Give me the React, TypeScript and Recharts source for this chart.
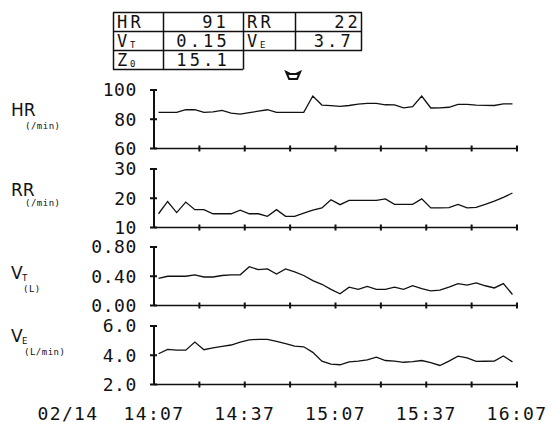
import React from "react";
import { LineChart, Line, XAxis, YAxis, ReferenceDot } from "recharts";

// sample times, minutes after 14:07
const minutes = [
  1.5, 4.5, 7.5, 10.5, 13.5, 16.5, 19.5, 22.5, 25.5, 28.5,
  31.5, 34.5, 37.5, 40.5, 43.5, 46.5, 49.5, 52.5, 55.5, 58.5,
  61.5, 64.5, 67.5, 70.5, 73.5, 76.5, 79.5, 82.5, 85.5, 88.5,
  91.5, 94.5, 97.5, 100.5, 103.5, 106.5, 109.5, 112.5, 115.5, 118.5,
];

const hrValues = [
  84.7, 84.7, 84.7, 86.5, 86.5, 84.7, 85, 86, 84.2, 83.5,
  84.5, 85.5, 86.5, 84.7, 84.7, 84.7, 84.7, 95.9, 89.7, 89.3,
  88.8, 89.4, 90.3, 90.9, 90.9, 89.9, 89.8, 87.8, 88.6, 95.9,
  87.7, 87.8, 88.2, 90.2, 90.2, 89.6, 89.5, 89.4, 90.5, 90.5,
];
const rrValues = [
  14.7, 18.9, 15.1, 18.7, 16.1, 16.1, 14.7, 14.7, 14.7, 15.9,
  14.7, 14.7, 13.8, 16.1, 13.8, 13.8, 14.9, 15.9, 16.7, 19.5,
  17.8, 19.3, 19.3, 19.3, 19.3, 19.8, 17.9, 17.9, 17.9, 19.8,
  16.7, 16.7, 16.8, 17.9, 16.7, 16.9, 17.9, 19.0, 20.3, 21.8,
];
const vtValues = [
  0.37, 0.4, 0.4, 0.4, 0.42, 0.39, 0.39, 0.41, 0.42, 0.42,
  0.53, 0.49, 0.5, 0.43, 0.5, 0.46, 0.41, 0.34, 0.29, 0.22,
  0.16, 0.25, 0.22, 0.26, 0.22, 0.22, 0.25, 0.22, 0.27, 0.23,
  0.2, 0.21, 0.25, 0.3, 0.28, 0.31, 0.27, 0.24, 0.3, 0.15,
];
const veValues = [
  4.1, 4.4, 4.35, 4.35, 4.9, 4.38, 4.5, 4.6, 4.7, 4.9,
  5.05, 5.09, 5.08, 4.95, 4.8, 4.62, 4.58, 4.2, 3.6, 3.4,
  3.35, 3.55, 3.6, 3.68, 3.87, 3.64, 3.6, 3.52, 3.56, 3.64,
  3.5, 3.3, 3.6, 3.94, 3.82, 3.58, 3.59, 3.6, 3.95, 3.55,
];

const timeTicks = [0, 15, 30, 45, 60, 75, 90, 105, 120];
const timeLabels = ["14:07", "14:37", "15:07", "15:37", "16:07"]; // one every 30 min
const dateLabel = "02/14";
const eventMinute = 46;

const hrTicks = [60, 80, 100];
const rrTicks = [10, 20, 30];
const vtTicks = [0, 0.4, 0.8];
const veTicks = [2, 4, 6];

const MONO = "'DejaVu Sans Mono', monospace";
const SANS = "'DejaVu Sans', sans-serif";
const INK = "#111";

const W = 553;
const AXIS_X = 154;
const RIGHT = 36;
const PLOT_H = 58.5;

function YTick(props: any) {
  const { x, y, payload, fmt } = props;
  return (
    <g>
      <path d={`M${x - 4},${y}H${x + 3}`} stroke={INK} strokeWidth={2} fill="none" />
      <text
        x={x - 17}
        y={y}
        dy="0.36em"
        textAnchor="end"
        fontFamily={MONO}
        fontSize={18}
        letterSpacing={0.6}
        fill={INK}
        stroke="none"
      >
        {fmt(payload.value)}
      </text>
    </g>
  );
}

function XTick(props: any) {
  const { x, y, payload, showLabels } = props;
  const v = Number(payload.value);
  const idx = v % 30 === 0 ? v / 30 : -1;
  return (
    <g>
      {v > 0 && <path d={`M${x},${y - 3}V${y + 3}`} stroke={INK} strokeWidth={2} fill="none" />}
      {showLabels && idx >= 0 && (
        <text x={x} y={y + 35} textAnchor="middle" fontFamily={MONO} fontSize={18} letterSpacing={1.4} fill={INK} stroke="none">
          {timeLabels[idx]}
        </text>
      )}
      {showLabels && v === 0 && (
        <text x={x - 86} y={y + 35} textAnchor="middle" fontFamily={MONO} fontSize={18} letterSpacing={1.4} fill={INK} stroke="none">
          {dateLabel}
        </text>
      )}
    </g>
  );
}

function EventMark(props: any) {
  const { cx, cy } = props;
  return (
    <path
      d={`M${cx - 7},${cy - 4} L${cx - 3},${cy - 2} L${cx + 3},${cy - 2} L${cx + 7},${cy - 4} L${cx + 4},${cy + 3} L${cx - 4},${cy + 3} Z`}
      fill="#fff"
      stroke={INK}
      strokeWidth={2}
    />
  );
}

type PanelProps = {
  plotTop: number;
  values: number[];
  ticks: number[];
  fmt: (v: number) => string;
  last?: boolean;
  marker?: boolean;
};

function Panel({ plotTop, values, ticks, fmt, last, marker }: PanelProps) {
  const data = minutes.map((m, i) => ({ m, v: values[i] }));
  const top = marker ? 20 : 10;
  const xh = last ? 40 : 10;
  const span = ticks[ticks.length - 1] - ticks[0];
  return (
    <div style={{ position: "absolute", left: 0, top: plotTop - top }}>
      <LineChart width={W} height={top + PLOT_H + xh} data={data} margin={{ top, right: RIGHT, left: 0, bottom: 0 }}>
        <XAxis
          dataKey="m"
          type="number"
          domain={[0, 120]}
          ticks={timeTicks}
          interval={0}
          height={xh}
          tickSize={0}
          tickMargin={0}
          tickLine={false}
          axisLine={{ stroke: INK, strokeWidth: 1.5 }}
          tick={(p: any) => <XTick {...p} showLabels={last} />}
        />
        <YAxis
          type="number"
          domain={[ticks[0], ticks[ticks.length - 1]]}
          ticks={ticks}
          interval={0}
          width={AXIS_X}
          tickSize={0}
          tickMargin={0}
          tickLine={false}
          axisLine={{ stroke: INK, strokeWidth: 2 }}
          tick={(p: any) => <YTick {...p} fmt={fmt} />}
        />
        <Line
          dataKey="v"
          type="linear"
          stroke={INK}
          strokeWidth={1.3}
          dot={false}
          isAnimationActive={false}
        />
        {marker && (
          <ReferenceDot
            x={eventMinute}
            y={ticks[ticks.length - 1] + span * 0.24}
            ifOverflow="visible"
            shape={(p: any) => <EventMark {...p} />}
          />
        )}
      </LineChart>
    </div>
  );
}

function Labels() {
  const t = { fontFamily: SANS, fill: INK } as const;
  const small = { fontFamily: MONO, fontSize: 9, fill: INK, letterSpacing: 0.5 } as const;
  const tb = { fontFamily: MONO, fontSize: 17, fill: INK, letterSpacing: 3.2 } as const;
  const tb1 = { fontFamily: MONO, fontSize: 17, fill: INK } as const;
  const sub = { fontFamily: MONO, fontSize: 9, fill: INK } as const;
  return (
    <svg width={W} height={422} style={{ position: "absolute", left: 0, top: 0, pointerEvents: "none" }}>
      {/* readout table */}
      <g stroke={INK} strokeWidth={1.5}>
        <line x1={113} x2={362} y1={12.5} y2={12.5} />
        <line x1={113} x2={362} y1={31.5} y2={31.5} />
        <line x1={113} x2={362} y1={50.5} y2={50.5} />
        <line x1={113} x2={243} y1={69.5} y2={69.5} />
        <line x1={113.5} x2={113.5} y1={12.5} y2={69.5} />
        <line x1={163.5} x2={163.5} y1={12.5} y2={69.5} />
        <line x1={243.5} x2={243.5} y1={12.5} y2={69.5} />
        <line x1={295.5} x2={295.5} y1={12.5} y2={50.5} />
        <line x1={361.5} x2={361.5} y1={12.5} y2={50.5} />
      </g>
      <text x={117} y={28} {...tb}>HR</text>
      <text x={229} y={28} textAnchor="end" {...tb}>91</text>
      <text x={247} y={28} {...tb}>RR</text>
      <text x={361} y={28} textAnchor="end" {...tb}>22</text>
      <text x={117} y={47} {...tb1}>V</text>
      <text x={130} y={48} {...sub}>T</text>
      <text x={230} y={47} textAnchor="end" {...tb}>0.15</text>
      <text x={247} y={47} {...tb1}>V</text>
      <text x={260} y={48} {...sub}>E</text>
      <text x={354} y={47} textAnchor="end" {...tb}>3.7</text>
      <text x={117} y={66} {...tb1}>Z</text>
      <text x={130} y={67} {...sub}>0</text>
      <text x={230} y={66} textAnchor="end" {...tb}>15.1</text>

      {/* panel titles */}
      <text x={11} y={116} fontSize={17} {...t}>HR</text>
      <text x={25} y={129} {...small}>(/min)</text>
      <text x={11} y={196} fontSize={17} {...t}>RR</text>
      <text x={25} y={206} {...small}>(/min)</text>
      <text x={11} y={279} fontSize={17} {...t}>V</text>
      <text x={22} y={281} {...sub}>T</text>
      <text x={23} y={292} {...small}>(L)</text>
      <text x={11} y={342} fontSize={17} {...t}>V</text>
      <text x={22} y={344} {...sub}>E</text>
      <text x={24} y={355} {...small}>(L/min)</text>
    </svg>
  );
}

export default function App() {
  return (
    <div style={{ position: "fixed", left: 0, top: 0, width: W, height: 422, background: "#fff", overflow: "hidden" }}>
      <Panel plotTop={90} values={hrValues} ticks={hrTicks} fmt={(v) => String(v)} marker />
      <Panel plotTop={168.5} values={rrValues} ticks={rrTicks} fmt={(v) => String(v)} />
      <Panel plotTop={247} values={vtValues} ticks={vtTicks} fmt={(v) => v.toFixed(2)} />
      <Panel plotTop={326} values={veValues} ticks={veTicks} fmt={(v) => v.toFixed(1)} last />
      <Labels />
    </div>
  );
}
